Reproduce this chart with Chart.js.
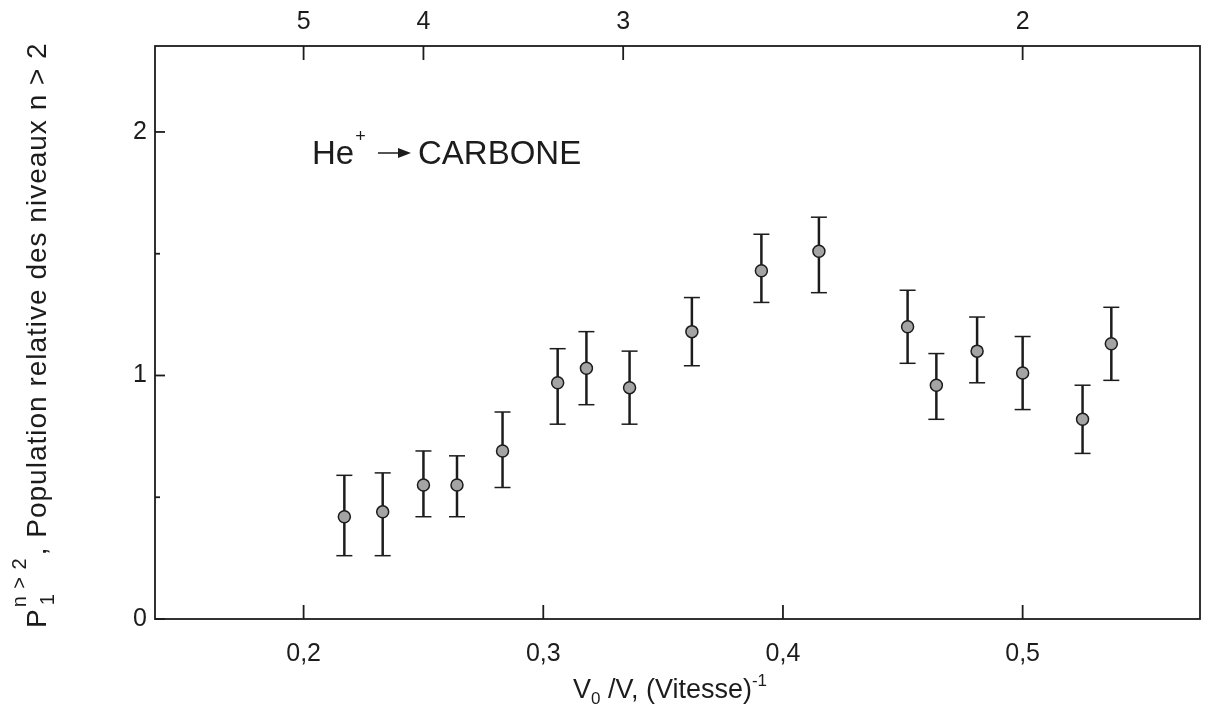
<!DOCTYPE html>
<html>
<head>
<meta charset="utf-8">
<script src="https://cdn.jsdelivr.net/npm/chart.js@4.4.1/dist/chart.umd.min.js"></script>
<style>
  html, body { margin: 0; padding: 0; background: #fff; }
</style>
</head>
<body>
<canvas id="chart" width="1215" height="704"></canvas>
<script>
// V0/V values (bottom axis) and relative population with error bars
const xValues = [0.217, 0.233, 0.250, 0.264, 0.283, 0.306, 0.318, 0.336, 0.362, 0.391, 0.415, 0.452, 0.464, 0.481, 0.500, 0.525, 0.537];
const yValues = [0.42, 0.44, 0.55, 0.55, 0.69, 0.97, 1.03, 0.95, 1.18, 1.43, 1.51, 1.20, 0.96, 1.10, 1.01, 0.82, 1.13];
const yLow    = [0.26, 0.26, 0.42, 0.42, 0.54, 0.80, 0.88, 0.80, 1.04, 1.30, 1.34, 1.05, 0.82, 0.97, 0.86, 0.68, 0.98];
const yHigh   = [0.59, 0.60, 0.69, 0.67, 0.85, 1.11, 1.18, 1.10, 1.32, 1.58, 1.65, 1.35, 1.09, 1.24, 1.16, 0.96, 1.28];

// axis ticks
const xTicks = [0.2, 0.3, 0.4, 0.5];
const xTickLabels = ['0,2', '0,3', '0,4', '0,5'];
const topEnergies = [5, 4, 3, 2];          // top axis: 1 / (V0/V)
const topTickLabels = ['5', '4', '3', '2'];
const yTicks = [0, 0.5, 1, 1.5, 2];
const yTickLabels = ['0', '', '1', '', '2'];

const ink = '#1c1c1c';
const font = '"Liberation Sans", Arial, Helvetica, sans-serif';

function line(ctx, x1, y1, x2, y2) {
  ctx.beginPath();
  ctx.moveTo(x1, y1);
  ctx.lineTo(x2, y2);
  ctx.stroke();
}

const errorBars = {
  id: 'errorBars',
  beforeDatasetsDraw(chart) {
    const { ctx, scales: { x, y } } = chart;
    ctx.save();
    ctx.strokeStyle = ink;
    xValues.forEach((xv, i) => {
      const px = x.getPixelForValue(xv);
      const lo = y.getPixelForValue(yLow[i]);
      const hi = y.getPixelForValue(yHigh[i]);
      ctx.lineWidth = 2.5;
      line(ctx, px, lo, px, hi);
      ctx.lineWidth = 1.5;
      line(ctx, px - 8, lo, px + 8, lo);
      line(ctx, px - 8, hi, px + 8, hi);
    });
    ctx.restore();
  }
};

const frame = {
  id: 'frame',
  afterDraw(chart) {
    const { ctx, chartArea: a, scales } = chart;
    ctx.save();
    ctx.strokeStyle = ink;
    ctx.lineWidth = 1.8;
    ctx.strokeRect(a.left, a.top, a.right - a.left, a.bottom - a.top);
    // inward tick marks
    xTicks.forEach(v => {
      const px = scales.x.getPixelForValue(v);
      line(ctx, px, a.bottom, px, a.bottom - 14);
    });
    topEnergies.forEach(e => {
      const px = scales.x2.getPixelForValue(1 / e);
      line(ctx, px, a.top, px, a.top + 14);
    });
    yTicks.forEach(v => {
      const py = scales.y.getPixelForValue(v);
      line(ctx, a.left, py, a.left + (Number.isInteger(v) ? 10 : 5), py);
    });

    ctx.fillStyle = ink;
    ctx.textBaseline = 'alphabetic';

    // annotation: He+ -> CARBONE
    let tx = 312, ty = 164;
    ctx.font = '33px ' + font;
    ctx.fillText('He', tx, ty);
    tx += ctx.measureText('He').width + 1;
    ctx.font = '18px ' + font;
    ctx.fillText('+', tx, ty - 22);
    tx = 378;
    ctx.lineWidth = 1.5;
    line(ctx, tx, ty - 11, tx + 24, ty - 11);
    ctx.beginPath();
    ctx.moveTo(tx + 33, ty - 11);
    ctx.lineTo(tx + 20, ty - 16);
    ctx.lineTo(tx + 20, ty - 6);
    ctx.closePath();
    ctx.fill();
    ctx.font = '33px ' + font;
    ctx.fillText('CARBONE', 418, ty);

    // x axis title: V0 /V, (Vitesse)^-1
    const parts = [['V', 0, 27], ['0', 6, 17], [' /V, (Vitesse)', 0, 27], ['-1', -12, 17]];
    let w = 0;
    parts.forEach(p => { ctx.font = p[2] + 'px ' + font; w += ctx.measureText(p[0]).width; });
    let cx = 670 - w / 2;
    parts.forEach(p => {
      ctx.font = p[2] + 'px ' + font;
      ctx.fillText(p[0], cx, 698 + p[1]);
      cx += ctx.measureText(p[0]).width;
    });

    // y axis title, rotated
    ctx.translate(46, 628);
    ctx.rotate(-Math.PI / 2);
    ctx.letterSpacing = '1px';
    ctx.font = '28px ' + font;
    ctx.fillText('P', 0, 0);
    let u = ctx.measureText('P').width + 1;
    ctx.font = '20px ' + font;
    ctx.fillText('n > 2', u, -20);
    ctx.fillText('1', u + 2, 8);
    u += ctx.measureText('n > 2').width + 2;
    ctx.font = '28px ' + font;
    ctx.fillText(', Population relative des niveaux n > 2', u, 0);
    ctx.restore();
  }
};

new Chart(document.getElementById('chart'), {
  type: 'scatter',
  data: {
    datasets: [{
      label: 'He+ -> Carbone',
      data: xValues.map((x, i) => ({ x: x, y: yValues[i] })),
      pointRadius: 6,
      pointBackgroundColor: '#a4a4a4',
      pointBorderColor: ink,
      pointBorderWidth: 1.5,
      showLine: false
    }]
  },
  options: {
    responsive: false,
    animation: false,
    layout: { padding: { left: 0, right: 15, top: 0, bottom: 0 } },
    plugins: { legend: { display: false }, tooltip: { enabled: false } },
    scales: {
      x: {
        type: 'linear',
        position: 'bottom',
        min: 0.138,
        max: 0.574,
        afterBuildTicks: s => { s.ticks = xTicks.map(v => ({ value: v })); },
        afterFit: s => { s.height = 85; },
        grid: { display: false, drawTicks: false },
        border: { display: false },
        ticks: {
          padding: 20,
          maxRotation: 0,
          color: ink,
          font: { family: font, size: 25 },
          callback: v => xTickLabels[xTicks.indexOf(v)]
        }
      },
      x2: {
        type: 'linear',
        position: 'top',
        min: 0.138,
        max: 0.574,
        afterBuildTicks: s => { s.ticks = topEnergies.map(e => ({ value: 1 / e })); },
        afterFit: s => { s.height = 46; },
        grid: { display: false, drawTicks: false },
        border: { display: false },
        ticks: {
          padding: 9,
          maxRotation: 0,
          color: ink,
          font: { family: font, size: 25 },
          callback: (v, i) => topTickLabels[i]
        }
      },
      y: {
        type: 'linear',
        min: 0,
        max: 2.353,
        afterBuildTicks: s => { s.ticks = yTicks.map(v => ({ value: v })); },
        afterFit: s => { s.width = 155; },
        grid: { display: false, drawTicks: false },
        border: { display: false },
        ticks: {
          padding: 8,
          color: ink,
          font: { family: font, size: 25 },
          callback: (v, i) => yTickLabels[i]
        }
      }
    }
  },
  plugins: [errorBars, frame]
});
</script>
</body>
</html>
